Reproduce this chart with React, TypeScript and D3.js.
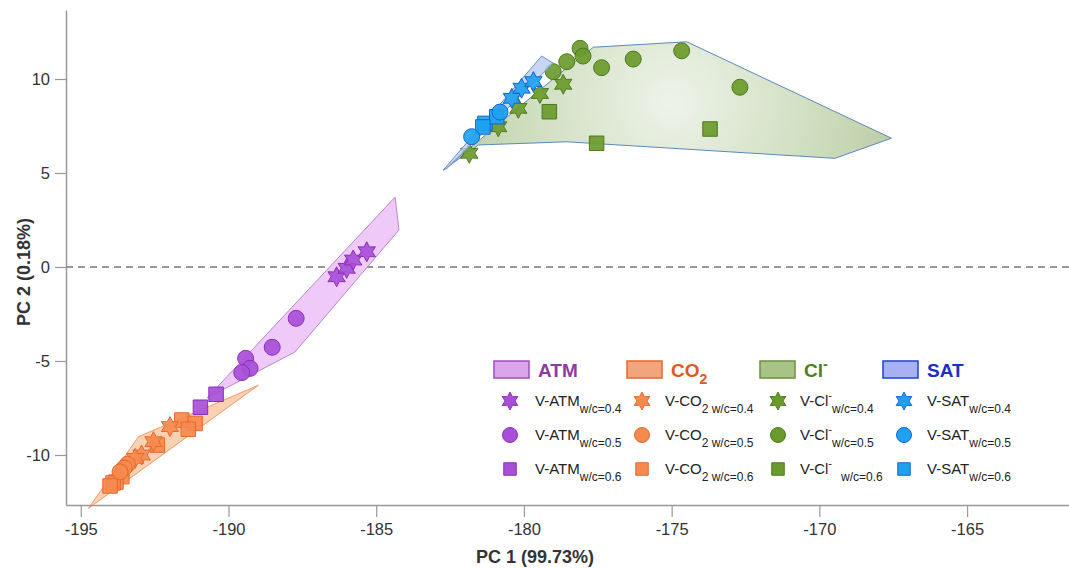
import { useEffect, useRef } from 'react'
import * as d3 from 'd3'

type Pt = [number, number]

// PCA scores (PC1, PC2)
const atmStar: Pt[] = [[-186.34, -0.52], [-186.0, -0.07], [-185.78, 0.37], [-185.32, 0.81]]
const atmCircle: Pt[] = [[-187.71, -2.73], [-188.52, -4.27], [-189.42, -4.86], [-189.27, -5.39], [-189.55, -5.62]]
const atmSquare: Pt[] = [[-190.42, -6.77], [-190.95, -7.46]]

const co2Star: Pt[] = [[-191.98, -8.49], [-192.54, -9.29], [-192.94, -10.0], [-193.16, -10.18]]
const co2Circle: Pt[] = [[-193.42, -10.49], [-193.53, -10.69], [-193.67, -10.9]]
const co2Square: Pt[] = [[-191.58, -8.14], [-191.13, -8.32], [-191.36, -8.63], [-192.41, -9.47],
  [-193.61, -11.15], [-193.81, -11.44], [-193.91, -11.49], [-194.01, -11.65]]

const clStar: Pt[] = [[-181.85, 6.05], [-180.87, 7.46], [-180.19, 8.44], [-179.46, 9.23], [-178.67, 9.72]]
const clCircle: Pt[] = [[-179.01, 10.39], [-178.55, 10.92], [-178.1, 11.63], [-178.0, 11.22],
  [-177.37, 10.6], [-176.3, 11.06], [-174.66, 11.5], [-172.69, 9.56]]
const clSquare: Pt[] = [[-179.14, 8.26], [-177.54, 6.58], [-173.7, 7.34]]

const satStar: Pt[] = [[-180.41, 8.97], [-180.08, 9.51], [-179.68, 9.86]]
const satCircle: Pt[] = [[-181.77, 6.93], [-180.81, 8.24]]
const satSquare: Pt[] = [[-181.32, 7.64], [-180.92, 7.99], [-181.39, 7.45]]

// group envelopes (hull vertices)
const atmHull: Pt[] = [[-184.36, 3.72], [-184.23, 1.97], [-187.75, -4.52], [-190.73, -6.97]]
const co2Hull: Pt[] = [[-188.99, -6.29], [-193.05, -9.03], [-194.74, -12.84]]
const clHull: Pt[] = [[-182.73, 5.16], [-178.85, 10.21], [-177.65, 11.69], [-174.49, 11.98],
  [-167.56, 6.85], [-169.47, 5.78], [-178.55, 6.66], [-181.54, 6.49]]
const satHull: Pt[] = [[-179.4, 11.22], [-179.01, 10.84], [-182.6, 5.25], [-182.73, 5.16]]

const xTicks = [-195, -190, -185, -180, -175, -170, -165]
const yTicks = [-10, -5, 0, 5, 10]
const wcLabels = ['0.4', '0.5', '0.6']

const W = 1069
const H = 568
const FONT = '"Liberation Sans", Arial, sans-serif'

const groups = [
  { key: 'ATM', fill: '#a84fd8', stroke: '#8a2fb8', patch: '#dba5ec', patchStroke: '#a24cbc', title: '#8b3aa6', sub: null as string | null, sup: null as string | null },
  { key: 'CO', fill: '#f58a4e', stroke: '#e5682c', patch: '#f2a47c', patchStroke: '#e5682c', title: '#e2581c', sub: '2', sup: null },
  { key: 'Cl', fill: '#6b9a2c', stroke: '#4c7a1c', patch: '#a9c387', patchStroke: '#6a9040', title: '#4f7d1f', sub: null, sup: '-' },
  { key: 'SAT', fill: '#1ea2ee', stroke: '#1464d4', patch: '#a8b2f2', patchStroke: '#2040d0', title: '#1a2fc4', sub: null, sup: null }
]

function starPath(R: number) {
  const pts: [number, number][] = d3.range(12).map(i => [i * Math.PI / 6, i % 2 === 0 ? R : R * 0.55])
  return d3.lineRadial<[number, number]>().angle(d => d[0]).radius(d => d[1]).curve(d3.curveLinearClosed)(pts) || ''
}

export default function App() {
  const svgRef = useRef<SVGSVGElement>(null)

  useEffect(() => {
    if (!svgRef.current) return
    const svg = d3.select(svgRef.current)
    svg.selectAll('*').remove()

    const x = d3.scaleLinear().domain([-195.5, -161.55]).range([66, 1069])
    const y = d3.scaleLinear().domain([-12.66, 13.67]).range([505, 10])

    const defs = svg.append('defs')
    const grad = defs.append('radialGradient')
      .attr('id', 'clGrad')
      .attr('gradientUnits', 'userSpaceOnUse')
      .attr('cx', x(-175)).attr('cy', y(8.8)).attr('r', 240)
    grad.append('stop').attr('offset', 0).attr('stop-color', '#eef3ea')
    grad.append('stop').attr('offset', 0.6).attr('stop-color', '#cfdebf')
    grad.append('stop').attr('offset', 1).attr('stop-color', '#bac9a1')

    // zero line
    svg.append('line')
      .attr('x1', x(-195.5)).attr('x2', W)
      .attr('y1', y(0)).attr('y2', y(0))
      .attr('stroke', '#777').attr('stroke-width', 1.5).attr('stroke-dasharray', '7,5')

    const line = d3.line<Pt>().x(d => x(d[0])).y(d => y(d[1])).curve(d3.curveLinearClosed)

    svg.append('path').attr('d', line(atmHull)).attr('fill', '#efcaf8').attr('stroke', '#b588d2').attr('stroke-width', 1)
    svg.append('path').attr('d', line(co2Hull)).attr('fill', '#f9c9a6').attr('fill-opacity', 0.85).attr('stroke', '#f29a62').attr('stroke-width', 1)
    svg.append('path').attr('d', line(clHull)).attr('fill', 'url(#clGrad)').attr('stroke', '#5a88bd').attr('stroke-width', 1)

    const star = starPath(10)
    const drawMarks = (data: Pt[], shape: string, g: typeof groups[number]) => {
      const sel = svg.append('g').selectAll('path').data(data).enter().append('path')
        .attr('transform', d => `translate(${x(d[0])},${y(d[1])})`)
        .attr('fill', g.fill).attr('stroke', g.stroke).attr('stroke-width', 1).attr('fill-opacity', 0.92)
      if (shape === 'star') sel.attr('d', star)
      else if (shape === 'circle') sel.attr('d', d3.symbol(d3.symbolCircle, Math.PI * 8 * 8)())
      else sel.attr('d', d3.symbol(d3.symbolSquare, 14.5 * 14.5)())
    }

    drawMarks(clSquare, 'square', groups[2])
    drawMarks(clStar, 'star', groups[2])
    drawMarks(clCircle, 'circle', groups[2])
    svg.append('path').attr('d', line(satHull)).attr('fill', '#b9cdf0').attr('fill-opacity', 0.8).attr('stroke', '#6d8fc8').attr('stroke-width', 1)
    drawMarks(satSquare, 'square', groups[3])
    drawMarks(satCircle, 'circle', groups[3])
    drawMarks(satStar, 'star', groups[3])
    drawMarks(atmSquare, 'square', groups[0])
    drawMarks(atmCircle, 'circle', groups[0])
    drawMarks(atmStar, 'star', groups[0])
    drawMarks(co2Square, 'square', groups[1])
    drawMarks(co2Star, 'star', groups[1])
    drawMarks(co2Circle, 'circle', groups[1])

    // axes
    const xAxis = svg.append('g')
      .attr('transform', `translate(0,${y(-12.66)})`)
      .call(d3.axisBottom(x).tickValues(xTicks).tickSize(12).tickSizeOuter(0).tickPadding(6).tickFormat(d => String(d)))
    const yAxis = svg.append('g')
      .attr('transform', `translate(${x(-195.5)},0)`)
      .call(d3.axisLeft(y).tickValues(yTicks).tickSize(11).tickSizeOuter(0).tickPadding(5).tickFormat(d => String(d)))
    ;[xAxis, yAxis].forEach(a => {
      a.select('.domain').attr('stroke', '#999').attr('stroke-width', 1.5)
      a.selectAll('.tick line').attr('stroke', '#999').attr('stroke-width', 1.2)
      a.selectAll('.tick text').attr('fill', '#333').style('font-size', '16.5px').style('font-family', FONT)
    })

    svg.append('text')
      .attr('x', 535).attr('y', 563)
      .attr('text-anchor', 'middle')
      .style('font-family', FONT).style('font-size', '18px').style('font-weight', 'bold').attr('fill', '#333')
      .text('PC 1 (99.73%)')
    svg.append('text')
      .attr('transform', `translate(30,272) rotate(-90)`)
      .attr('text-anchor', 'middle')
      .style('font-family', FONT).style('font-size', '18px').style('font-weight', 'bold').attr('fill', '#333')
      .text('PC 2 (0.18%)')

    // legend
    const patchX = [494, 627, 760, 883]
    const markX = [510, 642, 778, 904]
    const textX = [535, 665, 800, 927]
    const shapes = ['star', 'circle', 'square']
    const legend = svg.append('g')
    groups.forEach((g, i) => {
      const lx = patchX[i]
      legend.append('rect')
        .attr('x', lx).attr('y', 361).attr('width', 35).attr('height', 17)
        .attr('fill', g.patch).attr('stroke', g.patchStroke).attr('stroke-width', 1.5)
      const t = legend.append('text')
        .attr('x', lx + 44).attr('y', 377)
        .style('font-family', FONT).style('font-size', '19px').style('font-weight', 'bold').attr('fill', g.title)
      t.append('tspan').text(g.key)
      if (g.sub) t.append('tspan').attr('dy', 7).style('font-size', '14px').text(g.sub)
      if (g.sup) t.append('tspan').attr('dy', -8).style('font-size', '14px').text(g.sup)

      shapes.forEach((s, j) => {
        const my = 401 + j * 34
        const m = legend.append('path')
          .attr('transform', `translate(${markX[i]},${my})`)
          .attr('fill', g.fill).attr('stroke', g.stroke).attr('stroke-width', 1)
        if (s === 'star') m.attr('d', starPath(9))
        else if (s === 'circle') m.attr('d', d3.symbol(d3.symbolCircle, Math.PI * 7.5 * 7.5)())
        else m.attr('d', d3.symbol(d3.symbolSquare, 12.5 * 12.5)())

        const lt = legend.append('text')
          .attr('x', textX[i]).attr('y', my + 5)
          .style('font-family', FONT).style('font-size', '15px').attr('fill', '#222')
        if (g.key === 'CO') {
          lt.append('tspan').text('V-CO')
          lt.append('tspan').attr('dy', 7).style('font-size', '12px').text(`2 w/c=${wcLabels[j]}`)
        } else if (g.key === 'Cl') {
          lt.append('tspan').text('V-Cl')
          lt.append('tspan').attr('dy', -7).style('font-size', '11px').text('-')
          lt.append('tspan').attr('dy', 14).attr('dx', j === 2 ? 9 : 0).style('font-size', '12px').text(`w/c=${wcLabels[j]}`)
        } else {
          lt.append('tspan').text(`V-${g.key}`)
          lt.append('tspan').attr('dy', 7).style('font-size', '12px').text(`w/c=${wcLabels[j]}`)
        }
      })
    })
  }, [])

  return (
    <div style={{ position: 'absolute', left: 0, top: 0, background: '#fff' }}>
      <svg ref={svgRef} width={W} height={H} style={{ display: 'block' }} />
    </div>
  )
}
